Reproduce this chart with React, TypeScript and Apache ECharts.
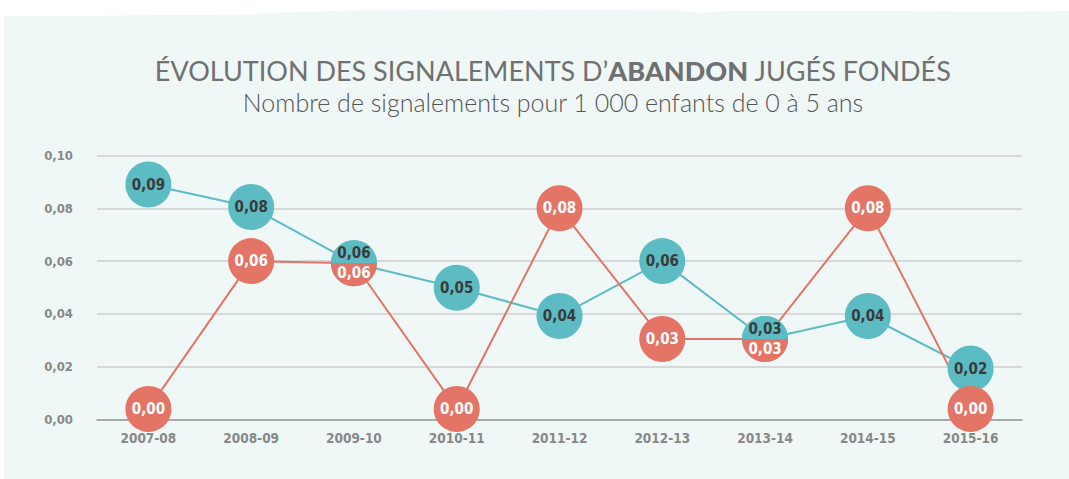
import React, { useEffect, useRef } from "react";
import * as echarts from "echarts";

const categories = ["2007-08", "2008-09", "2009-10", "2010-11", "2011-12", "2012-13", "2013-14", "2014-15", "2015-16"];
const blueValues = [0.089, 0.0805, 0.0592, 0.0499, 0.0392, 0.06, 0.0305, 0.0392, 0.0193];
const redValues = [0.004, 0.06, 0.0592, 0.004, 0.08, 0.0305, 0.0305, 0.08, 0.004];
const yTicks = { min: 0, max: 0.1, interval: 0.02 };
const titleParts = ["ÉVOLUTION DES SIGNALEMENTS D’", "ABANDON", " JUGÉS FONDÉS"];
const subtitle = "Nombre de signalements pour 1 000 enfants de 0 à 5 ans";

const BLUE = "#5dbcc3";
const RED = "#e47465";
const NARROW = "'DejaVu Sans Condensed', 'DejaVu Sans', sans-serif";

const fmt = (v: number) => v.toFixed(2).replace(".", ",");

export default function App() {
  const ref = useRef<HTMLDivElement>(null);
  useEffect(() => {
    if (!ref.current) return;
    const chart = echarts.init(ref.current, undefined, { renderer: "svg" });
    const overlap = (i: number) => fmt(blueValues[i]) === fmt(redValues[i]);
    const split = () =>
      new echarts.graphic.LinearGradient(0, 0, 0, 1, [
        { offset: 0, color: BLUE },
        { offset: 0.5, color: BLUE },
        { offset: 0.5, color: RED },
        { offset: 1, color: RED },
      ]);
    const redData = redValues.map((v, i) =>
      overlap(i) ? { value: v, itemStyle: { color: split() } } : { value: v }
    );
    const blueData = blueValues.map((v, i) =>
      overlap(i) ? { value: v, label: { show: false } } : { value: v }
    );
    const torn: number[][] = [
      [4, 16], [60, 16], [120, 15.5], [160, 15], [200, 15], [250, 14.5], [265, 13], [300, 12], [330, 11],
      [360, 10.5], [420, 10], [470, 10.5], [520, 10], [570, 9.5], [620, 10], [680, 10.5], [700, 13],
      [730, 11], [800, 11], [900, 11], [960, 11.5], [1020, 11.5], [1069, 11], [1069, 479], [4, 479],
    ];
    const labelFont = { fontFamily: NARROW, fontWeight: "bold" as const, fontSize: 15 };
    chart.setOption({
      animation: false,
      backgroundColor: "#ffffff",
      graphic: [
        { type: "polygon", z: -1, shape: { points: torn }, style: { fill: "#f0f8f7" } },
        {
          type: "text",
          x: 553,
          y: 70,
          style: {
            text: `{a|${titleParts[0]}}{b|${titleParts[1]}}{a|${titleParts[2]}}`,
            align: "center",
            verticalAlign: "middle",
            rich: {
              a: { fontFamily: "Lato", fontSize: 27, fontWeight: 400, fill: "#707070" },
              b: { fontFamily: "Lato", fontSize: 27, fontWeight: 900, fill: "#707070" },
            },
          },
        },
        {
          type: "text",
          x: 553,
          y: 102,
          style: {
            text: subtitle,
            align: "center",
            verticalAlign: "middle",
            fontFamily: "Lato",
            fontSize: 25,
            fontWeight: 300,
            fill: "#555555",
          },
        },
      ],
      grid: { left: 97, right: 47, top: 155.5, bottom: 59.5 },
      xAxis: {
        type: "category",
        data: categories,
        boundaryGap: true,
        axisLine: { lineStyle: { color: "#999999", width: 1.5 } },
        axisTick: { inside: true, length: 5, lineStyle: { color: "#999999" } },
        axisLabel: { color: "#888888", fontFamily: NARROW, fontWeight: "bold", fontSize: 13.5, margin: 11 },
      },
      yAxis: {
        type: "value",
        min: yTicks.min,
        max: yTicks.max,
        interval: yTicks.interval,
        axisLine: { show: false },
        axisTick: { show: false },
        axisLabel: { color: "#888888", fontFamily: NARROW, fontWeight: "bold", fontSize: 13, margin: 24, formatter: (v: number) => fmt(v) },
        splitLine: { lineStyle: { color: "#cfcfcf", width: 1.5 } },
      },
      series: [
        { type: "line", data: blueValues, symbol: "none", z: 2, lineStyle: { color: BLUE, width: 2 } },
        { type: "line", data: redValues, symbol: "none", z: 2, lineStyle: { color: RED, width: 2 } },
        {
          type: "scatter",
          data: blueData,
          z: 3,
          symbolSize: 46,
          itemStyle: { color: BLUE, opacity: 1 },
          label: {
            show: true,
            position: "inside",
            color: "#3a3a3a",
            ...labelFont,
            formatter: (p: any) => fmt(blueValues[p.dataIndex]),
          },
        },
        {
          type: "scatter",
          data: redData,
          z: 4,
          symbolSize: 46,
          itemStyle: { color: RED, opacity: 1 },
          label: {
            show: true,
            position: "inside",
            color: "#ffffff",
            ...labelFont,
            formatter: (p: any) => {
              const i = p.dataIndex;
              if (overlap(i)) return `{t|${fmt(blueValues[i])}}\n{w|${fmt(redValues[i])}}`;
              return fmt(redValues[i]);
            },
            rich: {
              t: { color: "#3a3a3a", ...labelFont, lineHeight: 20 },
              w: { color: "#ffffff", ...labelFont, lineHeight: 20 },
            },
          },
        },
      ],
    });
    return () => chart.dispose();
  }, []);
  return <div ref={ref} style={{ position: "fixed", left: 0, top: 0, width: 1069, height: 479 }} />;
}
